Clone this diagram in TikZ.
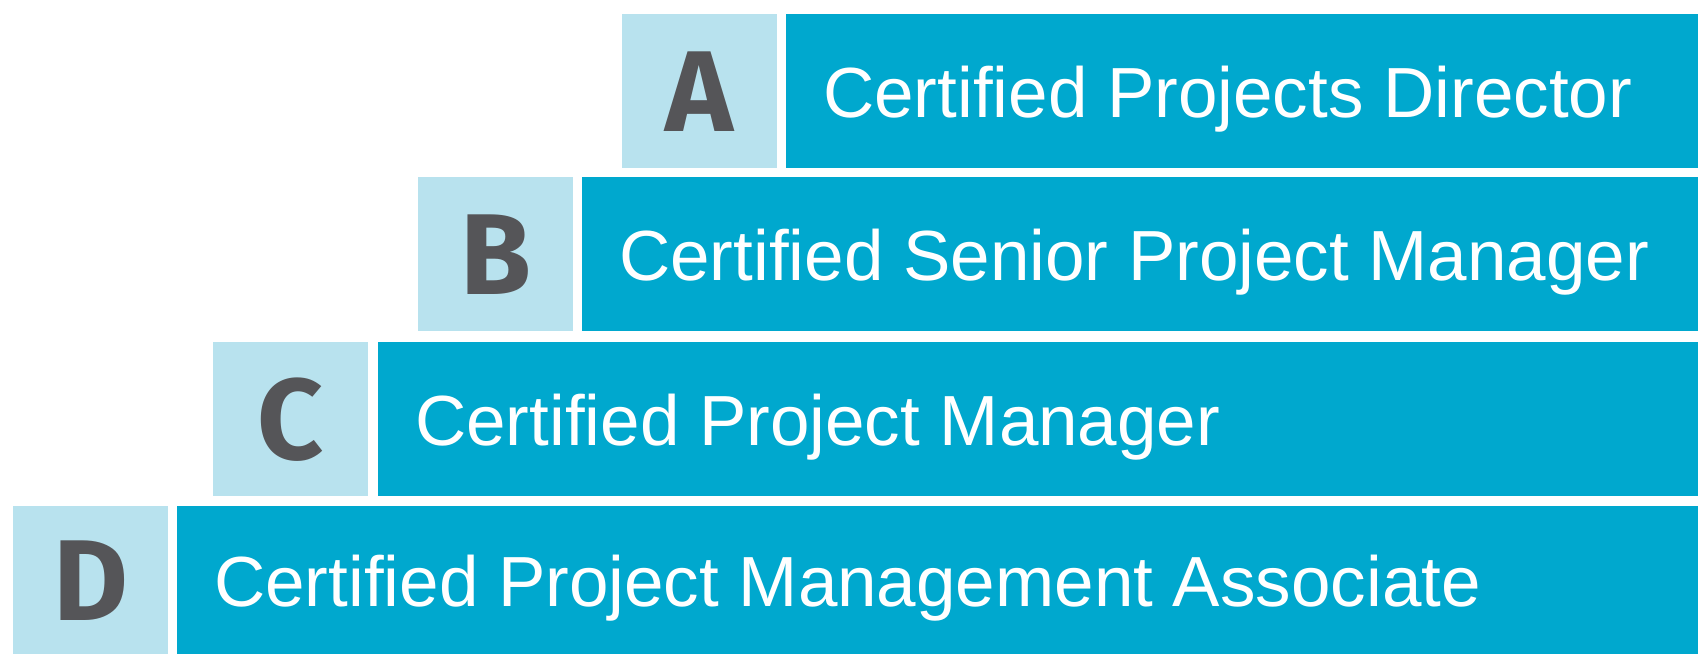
\documentclass[tikz,border=0pt]{standalone}
\usepackage{fontspec}
\usepackage{tikz}
\usetikzlibrary{positioning,calc}
\setmainfont{Liberation Sans}
\newfontfamily\keyfont{Fira Sans}
\definecolor{barblue}{RGB}{0,168,206}
\definecolor{keyblue}{RGB}{184,226,238}
\definecolor{keygray}{RGB}{85,85,88}

\begin{document}
\begin{tikzpicture}[
    x=1pt, y=-1pt,
    keybox/.style={rectangle, fill=keyblue, anchor=north west, inner sep=0pt, minimum width=155pt, text=keygray, font=\keyfont\bfseries\fontsize{115}{115}\selectfont},
    bar/.style={rectangle, fill=barblue, anchor=north west, inner sep=0pt},
    title/.style={anchor=base west, inner sep=0pt, text=white, font=\fontsize{71}{80}\selectfont}
]
    \useasboundingbox (0,0) rectangle (1698,654);

    \node[keybox, minimum height=154pt] (keyA) at (622,14) {A};
    \node[bar, minimum width=912pt, minimum height=154pt] (barA) at (786,14) {};
    \node[title] (titleA) at ([xshift=37pt, yshift=-26pt]barA.west) {Certified Projects Director};

    \node[keybox, minimum height=154pt] (keyB) at (418,177) {B};
    \node[bar, minimum width=1116pt, minimum height=154pt] (barB) at (582,177) {};
    \node[title] (titleB) at ([xshift=37pt, yshift=-26pt]barB.west) {Certified Senior Project Manager};

    \node[keybox, minimum height=154pt] (keyC) at (213,342) {C};
    \node[bar, minimum width=1320pt, minimum height=154pt] (barC) at (378,342) {};
    \node[title] (titleC) at ([xshift=37pt, yshift=-26pt]barC.west) {Certified Project Manager};

    \node[keybox, minimum height=148pt] (keyD) at (13,506) {D};
    \node[bar, minimum width=1521pt, minimum height=148pt] (barD) at (177,506) {};
    \node[title] (titleD) at ([xshift=37pt, yshift=-26pt]barD.west) {Certified Project Management Associate};
\end{tikzpicture}
\end{document}
